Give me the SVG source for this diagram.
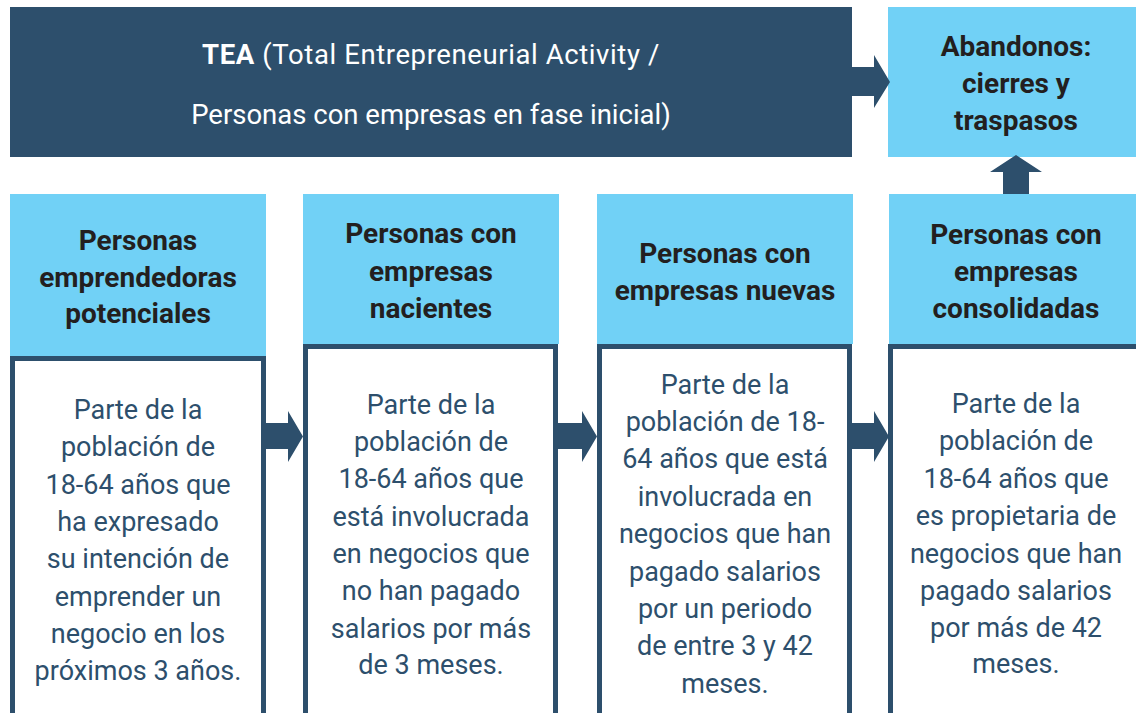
<svg xmlns="http://www.w3.org/2000/svg" width="1136" height="713" viewBox="0 0 1136 713">
<style>
.dark{fill:#2d4f6c}
.light{fill:#71d1f6}
.box{fill:#ffffff;stroke:#2d4f6c;stroke-width:5}
.hd{font-family:Roboto,"Liberation Sans",sans-serif;font-weight:700;font-size:28px;fill:#231f20;text-anchor:middle}
.bd{font-family:Roboto,"Liberation Sans",sans-serif;font-size:27px;fill:#2d4f6c;text-anchor:middle}
.bn{font-family:Roboto,"Liberation Sans",sans-serif;font-size:27.5px;fill:#ffffff;text-anchor:middle}
</style>
<rect width="1136" height="713" fill="#ffffff"/>

<g id="tea">
<rect class="dark" x="10" y="7" width="842" height="150"/>
<text class="bn" x="431" y="64" letter-spacing="0.6"><tspan font-weight="700">TEA</tspan> (Total Entrepreneurial Activity /</text>
<text class="bn" x="431" y="124">Personas con empresas en fase inicial)</text>
</g>

<g id="abandonos">
<rect class="light" x="888" y="7" width="248" height="150"/>
<text class="hd" x="1016" y="56">Abandonos:</text>
<text class="hd" x="1016" y="93">cierres y</text>
<text class="hd" x="1016" y="130">traspasos</text>
</g>

<g id="potenciales">
<rect class="light" x="10" y="194" width="256" height="162"/>
<rect class="box" x="12.5" y="358.5" width="251" height="380"/>
<text class="hd" x="138" y="250">Personas</text>
<text class="hd" x="138" y="287">emprendedoras</text>
<text class="hd" x="138" y="323">potenciales</text>
<text class="bd" x="138"><tspan x="138" y="419">Parte de la</tspan><tspan x="138" y="456">población de</tspan><tspan x="138" y="494">18-64 años que</tspan><tspan x="138" y="531">ha expresado</tspan><tspan x="138" y="568">su intención de</tspan><tspan x="138" y="606">emprender un</tspan><tspan x="138" y="643">negocio en los</tspan><tspan x="138" y="680">próximos 3 años.</tspan></text>
</g>

<g id="nacientes">
<rect class="light" x="303" y="194" width="256" height="150"/>
<rect class="box" x="305.5" y="346.5" width="250" height="390"/>
<text class="hd" x="431" y="243">Personas con</text>
<text class="hd" x="431" y="281">empresas</text>
<text class="hd" x="431" y="318">nacientes</text>
<text class="bd"><tspan x="431" y="414">Parte de la</tspan><tspan x="431" y="451">población de</tspan><tspan x="431" y="488">18-64 años que</tspan><tspan x="431" y="526">está involucrada</tspan><tspan x="431" y="563">en negocios que</tspan><tspan x="431" y="600">no han pagado</tspan><tspan x="431" y="638">salarios por más</tspan><tspan x="431" y="674">de 3 meses.</tspan></text>
</g>

<g id="nuevas">
<rect class="light" x="597" y="194" width="256" height="150"/>
<rect class="box" x="599.5" y="346.5" width="250" height="390"/>
<text class="hd" x="725" y="263">Personas con</text>
<text class="hd" x="725" y="300">empresas nuevas</text>
<text class="bd"><tspan x="725" y="394">Parte de la</tspan><tspan x="725" y="431">población de 18-</tspan><tspan x="725" y="468">64 años que está</tspan><tspan x="725" y="506">involucrada en</tspan><tspan x="725" y="543">negocios que han</tspan><tspan x="725" y="581">pagado salarios</tspan><tspan x="725" y="618">por un periodo</tspan><tspan x="725" y="655">de entre 3 y 42</tspan><tspan x="725" y="693">meses.</tspan></text>
</g>

<g id="consolidadas">
<rect class="light" x="889" y="194" width="260" height="150"/>
<rect class="box" x="890.5" y="346.5" width="300" height="390"/>
<text class="hd" x="1016" y="244">Personas con</text>
<text class="hd" x="1016" y="281">empresas</text>
<text class="hd" x="1016" y="318">consolidadas</text>
<text class="bd"><tspan x="1016" y="413">Parte de la</tspan><tspan x="1016" y="450">población de</tspan><tspan x="1016" y="488">18-64 años que</tspan><tspan x="1016" y="525">es propietaria de</tspan><tspan x="1016" y="563">negocios que han</tspan><tspan x="1016" y="600">pagado salarios</tspan><tspan x="1016" y="637">por más de 42</tspan><tspan x="1016" y="673">meses.</tspan></text>
</g>

<g id="connectors">
<polygon class="dark" points="852,67 874,67 874,55 890,82 874,108 874,96 852,96"/>
<polygon class="dark" points="1003,194 1003,172 990,172 1016,155 1042,172 1029,172 1029,194"/>
<polygon class="dark" points="265,423 288,423 288,411 303,436.5 288,462 288,449 265,449"/>
<polygon class="dark" points="557,423 582,423 582,411 597,436.5 582,462 582,449 557,449"/>
<polygon class="dark" points="851,423 874,423 874,411 889,436.5 874,462 874,449 851,449"/>
</g>
</svg>
